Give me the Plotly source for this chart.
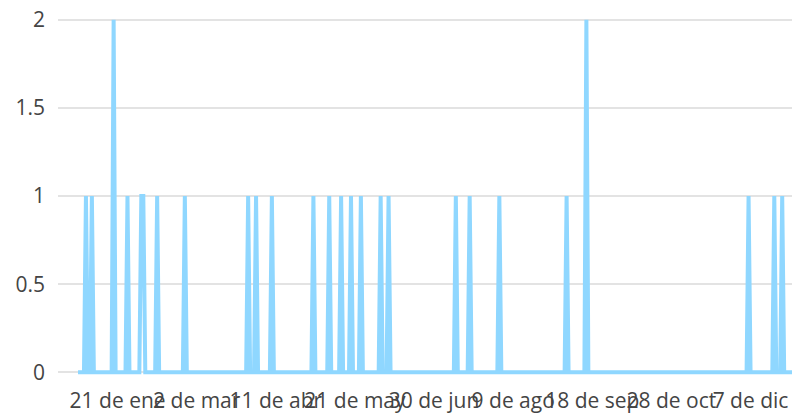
import plotly.graph_objects as go
import pandas as pd

# Daily series for 2019: zero everywhere except on these event dates
event_dates = [
    "2019-01-05", "2019-01-08", "2019-01-19", "2019-01-26", "2019-02-02",
    "2019-02-03", "2019-02-10", "2019-02-24", "2019-03-28", "2019-04-01",
    "2019-04-09", "2019-04-30", "2019-05-08", "2019-05-14", "2019-05-19",
    "2019-05-24", "2019-06-03", "2019-06-07", "2019-07-11", "2019-07-18",
    "2019-08-02", "2019-09-05", "2019-09-15", "2019-12-06", "2019-12-19",
    "2019-12-23",
]
event_values = [
    1, 1, 2, 1, 1,
    1, 1, 1, 1, 1,
    1, 1, 1, 1, 1,
    1, 1, 1, 1, 1,
    1, 1, 2, 1, 1,
    1,
]
start_date = "2019-01-01"
end_date = "2019-12-31"

tick_dates = ["2019-01-21", "2019-03-02", "2019-04-11", "2019-05-21", "2019-06-30",
              "2019-08-09", "2019-09-18", "2019-10-28", "2019-12-07"]
tick_labels = ["21 de ene", "2 de mar", "11 de abr", "21 de may", "30 de jun",
               "9 de ago", "18 de sep", "28 de oct", "7 de dic"]
y_ticks = [0, 0.5, 1, 1.5, 2]
y_tick_labels = ["0", "0.5", "1", "1.5", "2"]

days = pd.date_range(start_date, end_date, freq="D")
series = pd.Series(0, index=days, dtype=float)
for d, v in zip(event_dates, event_values):
    series[pd.Timestamp(d)] = v

fig = go.Figure()
fig.add_trace(go.Scatter(
    x=series.index, y=series.values, mode="lines",
    line=dict(color="#8fd7ff", width=4),
    hoverinfo="skip", showlegend=False,
))

font = dict(family="Open Sans, Noto Sans, sans-serif", size=21, color="#444444")

# page body has an 8px default margin, so the figure sits at (8, 8)
fig.update_layout(
    width=800, height=414,
    margin=dict(l=50, r=8, t=9, b=47, autoexpand=False),
    paper_bgcolor="white", plot_bgcolor="white",
    font=font,
    xaxis=dict(
        type="date", automargin=False,
        range=["2018-12-21 21:00", "2020-01-01"],
        tickvals=tick_dates, ticktext=tick_labels,
        showgrid=False, zeroline=False, showline=False,
        ticks="", ticklabelstandoff=11, ticklabeloverflow="allow",
        tickfont=font, tickangle=0,
    ),
    yaxis=dict(
        automargin=False,
        range=[-0.015, 2.015],
        tickvals=y_ticks, ticktext=y_tick_labels,
        showgrid=True, gridcolor="#e3e3e3", gridwidth=1.5,
        zeroline=False, showline=False,
        ticks="", ticklabelstandoff=12, ticklabeloverflow="allow",
        tickfont=font,
    ),
)

fig.write_html("out.html")
